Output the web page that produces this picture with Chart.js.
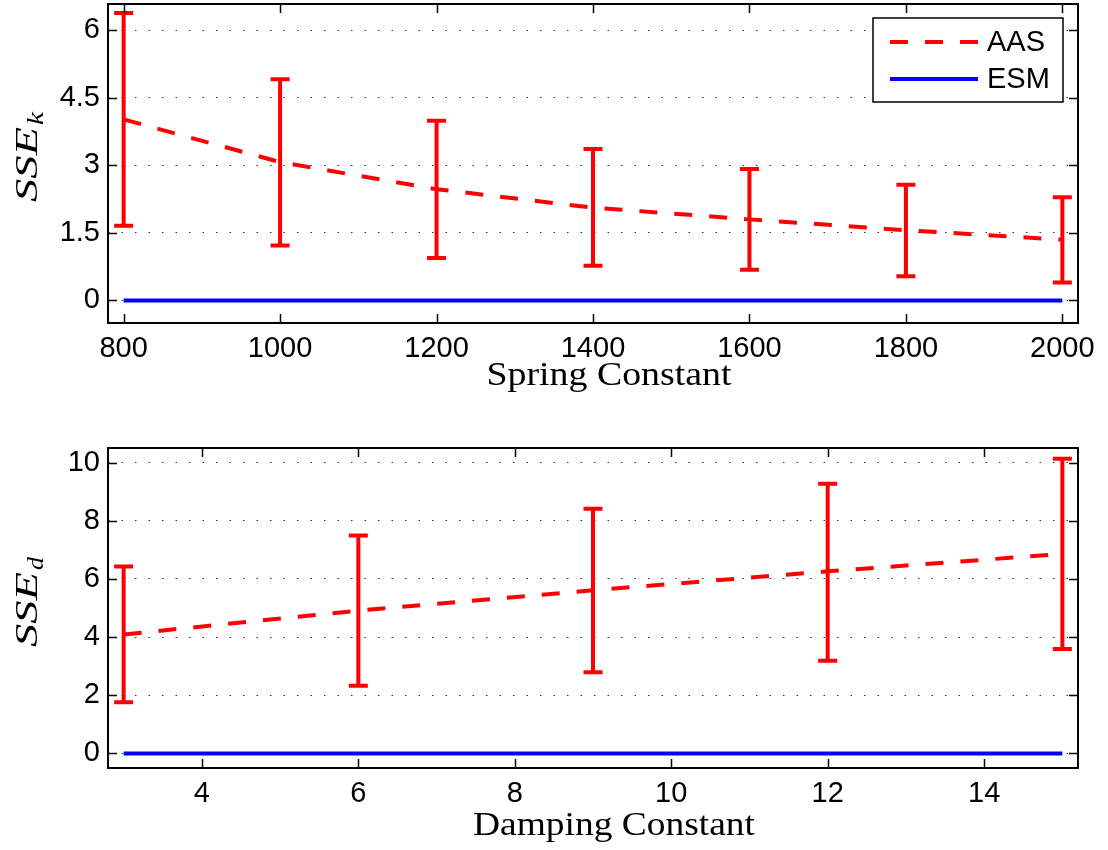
<!DOCTYPE html>
<html>
<head>
<meta charset="utf-8">
<script src="https://cdn.jsdelivr.net/npm/chart.js@4.4.1/dist/chart.umd.min.js"></script>
<style>
  html, body { margin: 0; padding: 0; background: #fff; }
  .panel { position: absolute; left: 0; width: 1108px; height: 425px; }
</style>
</head>
<body>
<div class="panel" style="top:0"><canvas id="springChart" width="1108" height="425"></canvas></div>
<div class="panel" style="top:425px"><canvas id="dampingChart" width="1108" height="425"></canvas></div>
<script>
// top panel: spring constant
const springX = [800, 1000, 1200, 1400, 1600, 1800, 2000];
const springAAS = [4.02, 3.07, 2.47, 2.06, 1.80, 1.56, 1.35];
const springLow = [1.66, 1.22, 0.94, 0.77, 0.68, 0.54, 0.40];
const springHigh = [6.38, 4.91, 3.99, 3.36, 2.92, 2.57, 2.29];
const springESM = [0, 0, 0, 0, 0, 0, 0];
const springXTicks = [800, 1000, 1200, 1400, 1600, 1800, 2000];
const springYTicks = [0, 1.5, 3, 4.5, 6];

// bottom panel: damping constant
const dampX = [3, 6, 9, 12, 15];
const dampAAS = [4.09, 4.91, 5.61, 6.26, 6.86];
const dampLow = [1.76, 2.33, 2.79, 3.19, 3.59];
const dampHigh = [6.43, 7.49, 8.41, 9.27, 10.13];
const dampESM = [0, 0, 0, 0, 0];
const dampXTicks = [4, 6, 8, 10, 12, 14];
const dampYTicks = [0, 2, 4, 6, 8, 10];

const seriesLabels = ['AAS', 'ESM'];

const RED = '#ff0000';
const BLUE = '#0000ff';
const SANS = '"Liberation Sans", Arial, sans-serif';
const SERIF = '"Liberation Serif", "Times New Roman", serif';

// draw text stretched to a given width (CM-like wide glyphs)
function fitText(ctx, text, x, y, width) {
  const w = ctx.measureText(text).width;
  ctx.save();
  ctx.translate(x, y);
  ctx.scale(width / w, 1);
  ctx.fillText(text, 0, 0);
  ctx.restore();
}

const decorPlugin = {
  id: 'decor',
  afterDatasetsDraw(chart) {
    // error bars for the AAS series
    const { ctx, scales: { x, y } } = chart;
    const ds = chart.data.datasets[0];
    ctx.save();
    ctx.strokeStyle = RED;
    ctx.lineWidth = 4;
    ds.data.forEach((p, i) => {
      const px = x.getPixelForValue(p.x);
      const lo = y.getPixelForValue(ds.errLow[i]);
      const hi = y.getPixelForValue(ds.errHigh[i]);
      ctx.beginPath();
      ctx.moveTo(px, lo); ctx.lineTo(px, hi);
      ctx.moveTo(px - 9.5, lo); ctx.lineTo(px + 9.5, lo);
      ctx.moveTo(px - 9.5, hi); ctx.lineTo(px + 9.5, hi);
      ctx.stroke();
    });
    ctx.restore();
  },
  afterDraw(chart, args, opts) {
    const { ctx, chartArea: a, scales: { x, y } } = chart;
    ctx.save();
    // inward tick marks on all four sides
    ctx.strokeStyle = '#000';
    ctx.lineWidth = 1.5;
    ctx.beginPath();
    x.ticks.forEach(t => {
      const px = Math.round(x.getPixelForValue(t.value)) + 0.5;
      ctx.moveTo(px, a.bottom); ctx.lineTo(px, a.bottom - 9);
      ctx.moveTo(px, a.top); ctx.lineTo(px, a.top + 9);
    });
    y.ticks.forEach(t => {
      const py = Math.round(y.getPixelForValue(t.value)) + 0.5;
      ctx.moveTo(a.left, py); ctx.lineTo(a.left + 9, py);
      ctx.moveTo(a.right, py); ctx.lineTo(a.right - 9, py);
    });
    ctx.stroke();
    // frame
    ctx.lineWidth = 2;
    ctx.strokeRect(a.left, a.top, a.right - a.left, a.bottom - a.top);

    // x axis title
    ctx.fillStyle = '#000';
    ctx.font = '33px ' + SERIF;
    ctx.textBaseline = 'alphabetic';
    ctx.textAlign = 'left';
    fitText(ctx, opts.xTitle, opts.xTitleCenter - opts.xTitleWidth / 2, a.bottom + opts.xTitleGap, opts.xTitleWidth);

    // y axis title: SSE with italic subscript, rotated
    ctx.save();
    ctx.translate(37, a.bottom - 121);
    ctx.rotate(-Math.PI / 2);
    ctx.font = 'italic 32px ' + SERIF;
    fitText(ctx, 'SSE', 0, 0, 75);
    ctx.font = 'italic 23px ' + SERIF;
    fitText(ctx, opts.ySub, 77, 6, 13);
    ctx.restore();

    // legend box
    if (opts.legend) {
      const bw = 190, bh = 84;
      const bx = a.right - 15 - bw, by = a.top + 14;
      ctx.fillStyle = '#fff';
      ctx.fillRect(bx, by, bw, bh);
      ctx.strokeStyle = '#000';
      ctx.lineWidth = 1.5;
      ctx.strokeRect(bx, by, bw, bh);
      ctx.font = '29px ' + SANS;
      ctx.textBaseline = 'middle';
      chart.data.datasets.forEach((d, i) => {
        const ly = by + 24 + i * 37;
        ctx.strokeStyle = d.borderColor;
        ctx.lineWidth = d.borderWidth;
        ctx.setLineDash(d.borderDash || []);
        ctx.beginPath();
        ctx.moveTo(bx + 17, ly); ctx.lineTo(bx + 105, ly);
        ctx.stroke();
        ctx.setLineDash([]);
        ctx.fillStyle = '#000';
        ctx.fillText(d.label, bx + 114, ly + 1);
      });
    }
    ctx.restore();
  }
};

function makeChart(id, c) {
  const ctx = document.getElementById(id).getContext('2d');
  return new Chart(ctx, {
    type: 'line',
    data: {
      datasets: [
        {
          label: seriesLabels[0],
          data: c.x.map((v, i) => ({ x: v, y: c.aas[i] })),
          errLow: c.low,
          errHigh: c.high,
          borderColor: RED,
          borderWidth: 4,
          borderDash: [18, 17],
          pointRadius: 0,
          fill: false,
          tension: 0
        },
        {
          label: seriesLabels[1],
          data: c.x.map((v, i) => ({ x: v, y: c.esm[i] })),
          borderColor: BLUE,
          borderWidth: 4,
          pointRadius: 0,
          fill: false
        }
      ]
    },
    options: {
      responsive: false,
      animation: false,
      events: [],
      layout: { padding: { top: c.padTop, right: 30, left: 0, bottom: 0 } },
      plugins: {
        legend: { display: false },
        tooltip: { enabled: false },
        decor: c.decor
      },
      scales: {
        x: {
          type: 'linear',
          min: c.xMin,
          max: c.xMax,
          afterBuildTicks: s => { s.ticks = c.xTicks.map(v => ({ value: v })); },
          afterFit: s => { s.height = c.xAxisHeight; s.paddingLeft = 0; s.paddingRight = 0; },
          grid: { display: false, drawTicks: false },
          border: { display: false },
          ticks: {
            color: '#000',
            font: { family: SANS, size: 29 },
            padding: 9,
            maxRotation: 0,
            autoSkip: false,
            callback: v => String(v)
          }
        },
        y: {
          min: c.yMin,
          max: c.yMax,
          afterBuildTicks: s => { s.ticks = c.yTicks.map(v => ({ value: v })); },
          afterFit: s => { s.width = 108; s.paddingTop = 0; s.paddingBottom = 0; },
          grid: { color: '#333', lineWidth: 1, drawTicks: false },
          border: { display: false, dash: [1.5, 12] },
          ticks: {
            color: '#000',
            font: { family: SANS, size: 29 },
            padding: 8,
            callback: v => String(v)
          }
        }
      }
    },
    plugins: [decorPlugin]
  });
}

makeChart('springChart', {
  x: springX, aas: springAAS, low: springLow, high: springHigh, esm: springESM,
  xTicks: springXTicks, yTicks: springYTicks,
  xMin: 780, xMax: 2020, yMin: -0.5, yMax: 6.58,
  padTop: 4, xAxisHeight: 102,
  decor: { xTitle: 'Spring Constant', xTitleCenter: 609, xTitleWidth: 245, xTitleGap: 62, ySub: 'k', legend: true }
});

makeChart('dampingChart', {
  x: dampX, aas: dampAAS, low: dampLow, high: dampHigh, esm: dampESM,
  xTicks: dampXTicks, yTicks: dampYTicks,
  xMin: 2.8, xMax: 15.2, yMin: -0.5, yMax: 10.5,
  padTop: 23, xAxisHeight: 82,
  decor: { xTitle: 'Damping Constant', xTitleCenter: 614, xTitleWidth: 282, xTitleGap: 67, ySub: 'd', legend: false }
});
</script>
</body>
</html>
